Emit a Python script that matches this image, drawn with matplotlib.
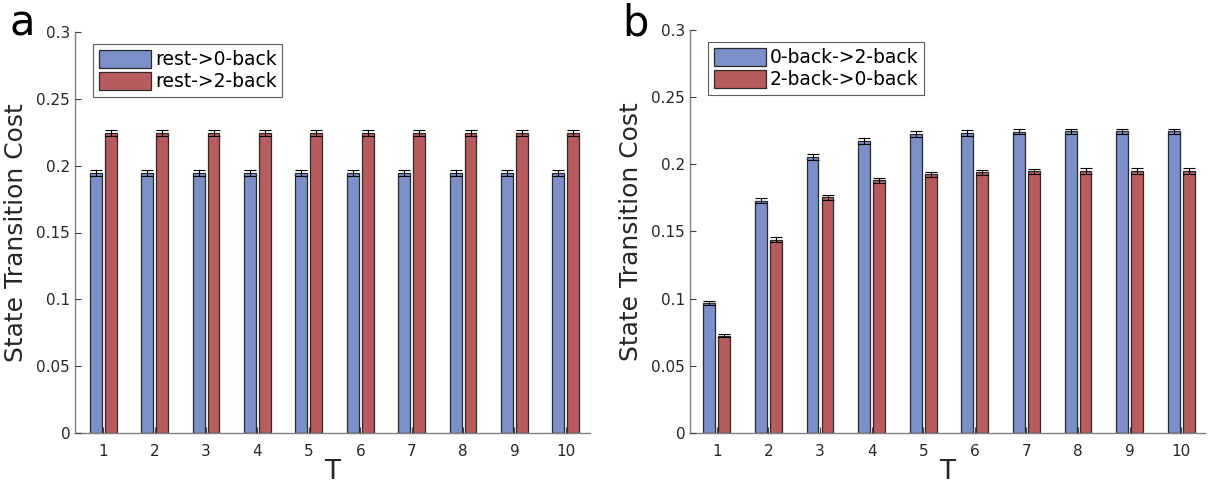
import numpy as np
import matplotlib
matplotlib.use("Agg")
import matplotlib.pyplot as plt

T = np.arange(1, 11)
tick_labels = [str(t) for t in T]

# Panel a
a_rest_0back = [0.1945, 0.1945, 0.1945, 0.1945, 0.1945, 0.1945, 0.1945, 0.1945, 0.1945, 0.1945]
a_rest_0back_err = [0.002] * 10
a_rest_2back = [0.2245, 0.2245, 0.2245, 0.2245, 0.2245, 0.2245, 0.2245, 0.2245, 0.2245, 0.2245]
a_rest_2back_err = [0.002] * 10

# Panel b
b_0to2 = [0.097, 0.173, 0.2055, 0.2175, 0.2225, 0.2233, 0.2243, 0.2245, 0.2245, 0.2245]
b_0to2_err = [0.0015, 0.002, 0.002, 0.002, 0.002, 0.002, 0.002, 0.002, 0.002, 0.002]
b_2to0 = [0.0725, 0.1438, 0.1755, 0.188, 0.1925, 0.194, 0.1947, 0.195, 0.195, 0.195]
b_2to0_err = [0.0012, 0.0018, 0.002, 0.002, 0.002, 0.002, 0.002, 0.002, 0.002, 0.002]

BLUE = "#7b8fc8"
RED = "#b85b5d"
TXT = "#262626"

plt.rcParams['font.family'] = ['DejaVu Sans']

fig = plt.figure(figsize=(12.08, 4.87), dpi=100)
ax_a = fig.add_axes([75/1208, 54/487, (590-75)/1208, (433-32)/487])
ax_b = fig.add_axes([690/1208, 54/487, (1205-690)/1208, (433-30)/487])

def draw(ax, v1, e1, v2, e2, labels, xlim):
    w = 0.23
    off = 0.145
    ax.bar(T - off, v1, width=w, color=BLUE, edgecolor="#2a2a2a", linewidth=0.9, label=labels[0], zorder=2)
    ax.bar(T + off, v2, width=w, color=RED, edgecolor="#2a2a2a", linewidth=0.9, label=labels[1], zorder=2)
    ax.errorbar(T - off, v1, yerr=e1, fmt='none', ecolor='black', elinewidth=0.8, capsize=4, capthick=0.8, zorder=3)
    ax.errorbar(T + off, v2, yerr=e2, fmt='none', ecolor='black', elinewidth=0.8, capsize=4, capthick=0.8, zorder=3)
    ax.set_xlim(*xlim)
    ax.set_ylim(0, 0.3)
    ax.set_xticks(T)
    ax.set_xticklabels(tick_labels)
    yt = [0, 0.05, 0.1, 0.15, 0.2, 0.25, 0.3]
    ax.set_yticks(yt)
    ax.set_yticklabels(['0', '0.05', '0.1', '0.15', '0.2', '0.25', '0.3'])
    for s in ['top', 'right']:
        ax.spines[s].set_visible(False)
    for s in ['left', 'bottom']:
        ax.spines[s].set_color('#808080')
        ax.spines[s].set_linewidth(1.0)
    ax.tick_params(direction='in', length=4, width=0.8, color='#404040', labelsize=11, labelcolor=TXT)
    ax.tick_params(axis='x', pad=8)
    ax.set_axisbelow(False)
    ax.set_xlabel('T', fontsize=19, color=TXT, labelpad=0)
    ax.set_ylabel('State Transition Cost', fontsize=18, color=TXT, labelpad=6)
    leg = ax.legend(loc='upper left', bbox_to_anchor=(0.035, 0.97), fontsize=13.5, frameon=True,
                    fancybox=False, handlelength=2.8, handleheight=1.1, borderpad=0.3,
                    labelspacing=0.15, handletextpad=0.2, borderaxespad=0)
    leg.get_frame().set_edgecolor('#333333')
    leg.get_frame().set_linewidth(0.8)

draw(ax_a, a_rest_0back, a_rest_0back_err, a_rest_2back, a_rest_2back_err,
     ['rest->0-back', 'rest->2-back'], (0.45, 10.47))
draw(ax_b, b_0to2, b_0to2_err, b_2to0, b_2to0_err,
     ['0-back->2-back', '2-back->0-back'], (0.48, 10.46))

fig.text(10/1208, 1 - 36/487, 'a', fontsize=30, color='black')
fig.text(622/1208, 1 - 36/487, 'b', fontsize=30, color='black')

fig.savefig('out.png', dpi=100)
